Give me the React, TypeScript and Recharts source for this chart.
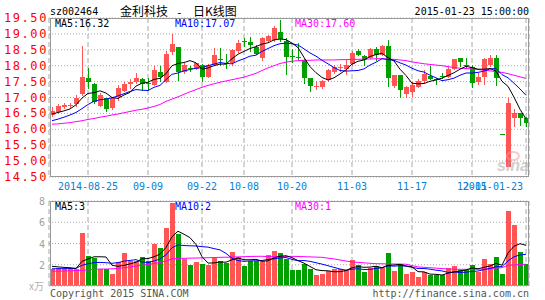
import React from 'react';
import { ComposedChart, Bar, Line, XAxis, YAxis, CartesianGrid } from 'recharts';

const dates = [
  '2014-08-15','2014-08-18','2014-08-19','2014-08-20','2014-08-21','2014-08-22','2014-08-25','2014-08-26','2014-08-27','2014-08-28',
  '2014-08-29','2014-09-01','2014-09-02','2014-09-03','2014-09-04','2014-09-05','2014-09-09','2014-09-10','2014-09-11','2014-09-12',
  '2014-09-15','2014-09-16','2014-09-17','2014-09-18','2014-09-19','2014-09-22','2014-09-23','2014-09-24','2014-09-25','2014-09-26',
  '2014-09-29','2014-09-30','2014-10-08','2014-10-09','2014-10-10','2014-10-13','2014-10-14','2014-10-15','2014-10-16','2014-10-17',
  '2014-10-20','2014-10-21','2014-10-22','2014-10-23','2014-10-24','2014-10-27','2014-10-28','2014-10-29','2014-10-30','2014-10-31',
  '2014-11-03','2014-11-04','2014-11-05','2014-11-06','2014-11-07','2014-11-10','2014-11-11','2014-11-12','2014-11-13','2014-11-14',
  '2014-11-17','2014-11-18','2014-11-19','2014-11-20','2014-11-21','2014-11-24','2014-11-25','2014-11-26','2014-11-27','2014-11-28',
  '2014-12-01','2014-12-02','2014-12-03','2014-12-04','2014-12-05','2015-01-19','2015-01-20','2015-01-21','2015-01-22','2015-01-23',
];

const opens = [
  16.45,16.53,16.70,16.73,16.78,17.10,17.60,17.42,16.74,16.97,
  16.68,17.01,17.22,17.43,17.48,17.58,17.47,17.38,17.80,17.50,
  18.44,18.59,17.81,17.94,17.90,18.02,17.65,18.02,18.20,18.10,
  18.07,18.46,18.79,18.73,18.60,18.23,18.77,18.80,19.06,18.77,
  18.32,18.27,18.17,17.60,17.35,17.33,17.55,17.81,17.94,17.91,
  18.04,18.46,18.31,18.23,18.53,18.35,18.61,17.36,17.70,17.12,
  17.18,17.34,17.52,17.67,17.57,17.69,17.65,17.89,18.23,18.02,
  17.97,17.50,17.65,18.02,18.23,15.84,14.83,16.37,16.50,16.35,
];
const closes = [
  16.59,16.72,16.76,16.77,17.00,17.66,17.48,16.85,17.08,16.63,
  16.98,17.30,17.41,17.50,17.62,17.41,17.45,17.85,17.66,18.38,
  18.67,17.79,18.02,17.92,18.07,17.63,18.02,18.35,18.18,18.08,
  18.49,18.72,18.77,18.65,18.38,18.87,18.94,19.19,18.83,18.28,
  18.30,18.26,17.62,17.37,17.37,17.53,17.88,17.97,17.96,18.02,
  18.41,18.33,18.17,18.52,18.33,18.61,17.60,17.70,17.23,17.32,
  17.39,17.52,17.73,17.57,17.55,17.67,17.91,18.20,18.12,18.00,
  17.47,17.65,18.20,18.25,17.60,15.84,16.84,16.50,16.37,16.19,
];
const highs = [
  16.69,16.78,16.82,16.83,17.08,18.63,17.92,17.45,17.15,17.00,
  17.03,17.38,17.50,17.58,17.76,17.62,17.62,18.00,18.00,18.46,
  19.00,18.60,18.10,18.00,18.10,18.05,18.05,18.57,18.57,18.38,
  18.52,18.80,18.88,18.90,18.65,18.90,18.98,19.25,19.43,18.87,
  18.54,18.70,18.20,17.62,17.52,17.55,17.90,18.02,18.04,18.17,
  18.45,18.54,18.33,18.56,18.60,18.64,18.80,17.72,17.72,17.36,
  17.50,17.58,17.85,18.00,17.60,17.78,17.95,18.22,18.25,18.25,
  18.02,17.76,18.23,18.33,18.35,15.84,17.00,16.64,16.50,16.40,
];
const lows = [
  16.40,16.47,16.63,16.68,16.70,17.05,17.28,16.80,16.70,16.55,
  16.60,16.90,17.18,17.27,17.43,17.20,17.22,17.35,17.48,17.45,
  18.33,17.52,17.75,17.80,17.85,17.50,17.60,18.00,18.00,17.90,
  18.00,18.40,18.60,18.44,18.35,18.15,18.75,18.75,18.75,17.70,
  18.07,18.18,17.44,17.16,17.25,17.28,17.50,17.75,17.79,17.70,
  18.00,18.30,18.00,18.20,18.15,18.30,17.34,17.30,16.97,17.00,
  17.03,17.30,17.45,17.55,17.40,17.58,17.60,17.85,17.95,17.90,
  17.30,17.40,17.40,17.95,17.36,15.84,14.80,16.08,16.10,16.08,
];

const ma5 = [
  16.48,16.53,16.58,16.64,16.77,16.98,17.13,17.15,17.21,17.14,
  17.00,16.97,17.08,17.16,17.36,17.45,17.48,17.57,17.60,17.75,
  18.00,18.07,18.10,18.16,18.09,17.89,17.93,18.00,18.05,18.05,
  18.22,18.36,18.45,18.54,18.60,18.68,18.72,18.81,18.84,18.82,
  18.71,18.57,18.26,17.97,17.78,17.63,17.55,17.62,17.74,17.87,
  18.05,18.14,18.18,18.29,18.35,18.39,18.25,18.15,17.89,17.69,
  17.45,17.43,17.44,17.51,17.55,17.61,17.69,17.78,17.89,17.98,
  17.94,17.89,17.89,17.91,17.83,17.51,17.35,17.01,16.63,16.32,
];
const ma10 = [
  16.27,16.32,16.38,16.45,16.53,16.65,16.78,16.88,16.93,16.95,
  16.99,17.05,17.12,17.19,17.25,17.23,17.22,17.32,17.38,17.56,
  17.73,17.77,17.84,17.88,17.92,17.94,18.00,18.05,18.10,18.07,
  18.06,18.15,18.22,18.30,18.33,18.45,18.54,18.63,18.69,18.71,
  18.69,18.65,18.53,18.40,18.30,18.17,18.06,17.94,17.85,17.83,
  17.84,17.85,17.90,18.02,18.11,18.22,18.19,18.17,18.09,18.02,
  17.92,17.84,17.80,17.70,17.62,17.53,17.56,17.61,17.70,17.77,
  17.77,17.79,17.83,17.90,17.91,17.72,17.62,17.45,17.27,17.07,
];
const ma30 = [
  16.16,16.17,16.19,16.21,16.24,16.27,16.31,16.34,16.38,16.41,
  16.45,16.48,16.52,16.56,16.60,16.63,16.67,16.72,16.78,16.88,
  16.95,17.02,17.10,17.18,17.25,17.32,17.38,17.43,17.48,17.52,
  17.56,17.60,17.64,17.70,17.76,17.85,17.93,18.00,18.07,18.11,
  18.14,18.16,18.17,18.17,18.18,18.18,18.18,18.18,18.19,18.19,
  18.20,18.20,18.21,18.21,18.22,18.22,18.21,18.20,18.18,18.16,
  18.12,18.09,18.06,18.04,18.02,18.00,17.97,17.94,17.92,17.91,
  17.90,17.88,17.86,17.84,17.81,17.79,17.75,17.70,17.65,17.60,
];

const volumes = [
  1.64,1.70,1.64,1.64,1.64,5.00,2.80,2.65,1.64,1.57,
  1.10,2.27,3.12,2.33,2.33,2.74,2.36,4.00,3.59,5.48,
  7.78,4.94,2.58,1.95,2.27,2.05,1.95,2.65,2.36,2.17,
  3.21,2.74,1.86,2.36,2.36,2.36,2.90,3.28,3.12,2.58,
  1.48,1.48,2.10,1.57,1.00,1.10,1.39,1.64,1.64,1.48,
  2.43,1.95,1.32,1.73,1.86,1.73,3.12,1.42,2.05,1.10,
  1.32,0.85,1.32,1.00,1.00,1.00,1.73,1.86,1.48,1.48,
  1.95,1.32,2.58,2.05,2.74,1.10,7.05,5.73,3.21,2.05,
];
const volMa5 = [
  1.85,1.80,1.75,1.72,1.65,2.32,2.54,2.75,2.75,2.73,
  1.95,1.85,1.94,2.08,2.23,2.56,2.58,2.75,3.00,3.63,
  4.64,5.16,4.87,4.55,3.90,2.76,2.16,2.17,2.26,2.24,
  2.47,2.63,2.47,2.47,2.51,2.34,2.37,2.65,2.80,2.85,
  2.67,2.39,2.15,1.84,1.53,1.45,1.43,1.34,1.35,1.45,
  1.72,1.83,1.76,1.78,1.86,1.72,1.95,1.97,2.04,1.88,
  1.80,1.35,1.33,1.12,1.10,1.03,1.21,1.32,1.41,1.51,
  1.70,1.62,1.76,1.88,2.13,1.96,3.11,3.74,3.98,3.83,
];
const volMa10 = [
  1.62,1.63,1.63,1.64,1.66,1.95,2.10,2.20,2.22,2.19,
  2.14,2.20,2.34,2.41,2.48,2.26,2.21,2.35,2.54,2.93,
  3.60,3.87,3.81,3.78,3.77,3.70,3.66,3.52,3.40,3.07,
  2.61,2.39,2.32,2.36,2.37,2.40,2.50,2.56,2.64,2.68,
  2.50,2.38,2.40,2.32,2.19,2.06,1.91,1.75,1.60,1.49,
  1.58,1.63,1.55,1.57,1.65,1.72,1.89,1.87,1.91,1.87,
  1.76,1.65,1.65,1.58,1.49,1.42,1.28,1.32,1.27,1.30,
  1.37,1.41,1.54,1.65,1.82,1.83,2.36,2.75,2.92,2.98,
];
const volMa30 = [
  1.39,1.40,1.41,1.43,1.45,1.48,1.52,1.56,1.60,1.60,
  1.62,1.66,1.72,1.80,1.88,1.95,2.02,2.12,2.22,2.35,
  2.55,2.60,2.61,2.62,2.63,2.65,2.66,2.68,2.70,2.71,
  2.72,2.74,2.76,2.78,2.79,2.80,2.76,2.77,2.78,2.78,
  2.79,2.78,2.76,2.74,2.72,2.70,2.62,2.55,2.45,2.35,
  2.27,2.22,2.18,2.14,2.10,2.09,2.08,2.07,2.06,2.05,
  1.92,1.80,1.76,1.72,1.68,1.64,1.60,1.58,1.57,1.57,
  1.57,1.58,1.60,1.63,1.68,1.73,1.95,1.98,2.02,2.05,
];

const priceTicks = [14.5, 15, 15.5, 16, 16.5, 17, 17.5, 18, 18.5, 19, 19.5];
const volTicks = [2, 4, 6, 8];
const dateTicks = ['2014-08-25','2014-09-09','2014-09-22','2014-10-08','2014-10-20','2014-11-03','2014-11-17','2014-12-01','2015-01-23'];

const RED = '#ff5555';
const GREEN = '#00a000';
const MONO = '"DejaVu Sans Mono", monospace';
const CJK = '"Noto Sans CJK SC", sans-serif';

const data = dates.map((d, i) => ({
  date: d,
  open: opens[i], close: closes[i], high: highs[i], low: lows[i],
  ma5: ma5[i], ma10: ma10[i], ma30: ma30[i],
  vol: volumes[i], vma5: volMa5[i], vma10: volMa10[i], vma30: volMa30[i],
}));

const Candle = (props: any) => {
  const { x, y, width, height, payload } = props;
  if (x == null || y == null) return null;
  const { open, close, high, low } = payload;
  const color = close > open ? RED : GREEN;
  const c = Math.floor(x + width / 2);
  const range = high - low;
  const h = height || 0;
  const py = (v: number) => (range > 0 ? y + ((high - v) / range) * h : y);
  const top = Math.round(py(Math.max(open, close)));
  const bot = Math.round(py(Math.min(open, close)));
  return (
    <g shapeRendering="crispEdges">
      {range > 0 && (
        <line x1={c + 0.5} x2={c + 0.5} y1={Math.round(y)} y2={Math.round(y + h)} stroke={color} strokeWidth={1} />
      )}
      <rect x={c - 2} y={top} width={5} height={Math.max(bot - top, 1)} fill={color} />
    </g>
  );
};

const VolBar = (props: any) => {
  const { x, y, width, height, payload } = props;
  if (x == null || y == null) return null;
  const c = Math.floor(x + width / 2);
  const t = Math.round(y);
  const b = Math.round(y + height);
  return (
    <rect x={c - 2} y={t} width={5} height={Math.max(b - t, 0)}
      fill={payload.close > payload.open ? RED : GREEN} shapeRendering="crispEdges" />
  );
};

const PriceTick = (props: any) => {
  const { y, payload } = props;
  return (
    <text x={48} y={y} dy={4} textAnchor="end" fill="#ff0000" fontFamily={MONO} fontSize={12} letterSpacing={1.6}>
      {payload.value.toFixed(2)}
    </text>
  );
};

const VolTick = (props: any) => {
  const { y, payload } = props;
  return (
    <text x={45} y={y} dy={4} textAnchor="end" fill="#a0a0a0" fontFamily={MONO} fontSize={10}>
      {payload.value}
    </text>
  );
};

const DateTick = (props: any) => {
  const { x, y, payload } = props;
  const v: string = payload.value;
  const isFirst = v === dateTicks[0];
  const isLast = v === dateTicks[dateTicks.length - 1];
  const label = isFirst || isLast ? v : v.slice(5);
  return (
    <text x={isLast ? x - 3 : x} y={y + 13} textAnchor={isLast ? 'end' : 'middle'} fill="#0a7fd2" fontFamily={MONO} fontSize={10}>
      {label}
    </text>
  );
};

export default function App() {
  return (
    <div style={{ position: 'absolute', left: 0, top: 0, width: 545, height: 300, background: '#fff', overflow: 'hidden' }}>
      <div style={{ position: 'absolute', left: 0, top: 0 }}>
        <ComposedChart width={545} height={200} data={data} margin={{ top: 18, right: 16, bottom: 0, left: 0 }}>
          <CartesianGrid vertical={false} stroke="#a8a8a8" strokeDasharray="1 2" />
          <CartesianGrid horizontal={false} stroke="#a8a8a8" strokeDasharray="5 3" />
          <XAxis dataKey="date" ticks={dateTicks} interval={0} tick={(p: any) => <DateTick {...p} />}
            tickLine={false} axisLine={false} height={23} tickSize={0} tickMargin={0} />
          <YAxis domain={[14.5, 19.5]} ticks={priceTicks} interval={0} width={49} allowDataOverflow
            tickLine={false} axisLine={false} tick={(p: any) => <PriceTick {...p} />} />
          <Bar dataKey={(d: any) => [d.low, d.high]} barSize={5} shape={(p: any) => <Candle {...p} />} isAnimationActive={false} />
          <Line dataKey="ma30" type="linear" stroke="#ff00ff" strokeWidth={1} dot={false} isAnimationActive={false} />
          <Line dataKey="ma10" type="linear" stroke="#0000ff" strokeWidth={1} dot={false} isAnimationActive={false} />
          <Line dataKey="ma5" type="linear" stroke="#000000" strokeWidth={1} dot={false} isAnimationActive={false} />
        </ComposedChart>
      </div>
      <div style={{ position: 'absolute', left: 0, top: 190 }}>
        <ComposedChart width={545} height={100} data={data} margin={{ top: 11, right: 16, bottom: 4, left: 0 }}>
          <CartesianGrid vertical={false} stroke="#a8a8a8" strokeDasharray="1 2" />
          <CartesianGrid horizontal={false} stroke="#a8a8a8" strokeDasharray="5 3" />
          <XAxis dataKey="date" ticks={dateTicks} interval={0} hide />
          <YAxis domain={[0, 8]} ticks={volTicks} interval={0} width={49} allowDataOverflow
            tickLine={false} axisLine={false} tick={(p: any) => <VolTick {...p} />} />
          <Bar dataKey="vol" barSize={5} shape={(p: any) => <VolBar {...p} />} isAnimationActive={false} />
          <Line dataKey="vma30" type="linear" stroke="#ff00ff" strokeWidth={1} dot={false} isAnimationActive={false} />
          <Line dataKey="vma10" type="linear" stroke="#0000ff" strokeWidth={1} dot={false} isAnimationActive={false} />
          <Line dataKey="vma5" type="linear" stroke="#000000" strokeWidth={1} dot={false} isAnimationActive={false} />
        </ComposedChart>
      </div>
      <svg width={545} height={300} style={{ position: 'absolute', left: 0, top: 0, pointerEvents: 'none' }}>
        <rect x={50.5} y={18.5} width={478} height={158} fill="none" stroke="#999" shapeRendering="crispEdges" />
        <rect x={50.5} y={201.5} width={478} height={84} fill="none" stroke="#999" shapeRendering="crispEdges" />
        <text x={50} y={15} fontFamily={MONO} fontSize={10} fill="#000">sz002464</text>
        <text x={120} y={15.5} fontFamily={CJK} fontSize={12} fill="#000">金利科技</text>
        <text x={176} y={15.5} fontFamily={MONO} fontSize={11} fill="#000">-</text>
        <text x={193} y={15.5} fontFamily={CJK} fontSize={12} fill="#000">日K线图</text>
        <text x={529} y={15} textAnchor="end" fontFamily={MONO} fontSize={10} fill="#000">2015-01-23 15:00:00</text>
        <text x={55} y={27} fontFamily={MONO} fontSize={10} fill="#000">MA5:16.32</text>
        <text x={175} y={27} fontFamily={MONO} fontSize={10} fill="#0000ff">MA10:17.07</text>
        <text x={295} y={27} fontFamily={MONO} fontSize={10} fill="#ff00ff">MA30:17.60</text>
        <text x={55} y={210} fontFamily={MONO} fontSize={10} fill="#000">MA5:3</text>
        <text x={175} y={210} fontFamily={MONO} fontSize={10} fill="#0000ff">MA10:2</text>
        <text x={295} y={210} fontFamily={MONO} fontSize={10} fill="#ff00ff">MA30:1</text>
        <text x={29} y={290} fontFamily={CJK} fontSize={10} fill="#b0b0b0">x万</text>
        <text x={50} y={297} fontFamily={MONO} fontSize={10} fill="#555">Copyright 2015 SINA.COM</text>
        <text x={529} y={297} textAnchor="end" fontFamily={MONO} fontSize={10} fill="#555">http://finance.sina.com.cn</text>
        <g opacity={0.55}>
          <ellipse cx={513} cy={156} rx={6} ry={4} fill="none" stroke="#f4a0a0" strokeWidth={2} />
          <text x={497} y={171} fontFamily='"Liberation Sans", sans-serif' fontStyle="italic" fontWeight="bold" fontSize={16} fill="#a8a8a8">sina</text>
        </g>
      </svg>
    </div>
  );
}
